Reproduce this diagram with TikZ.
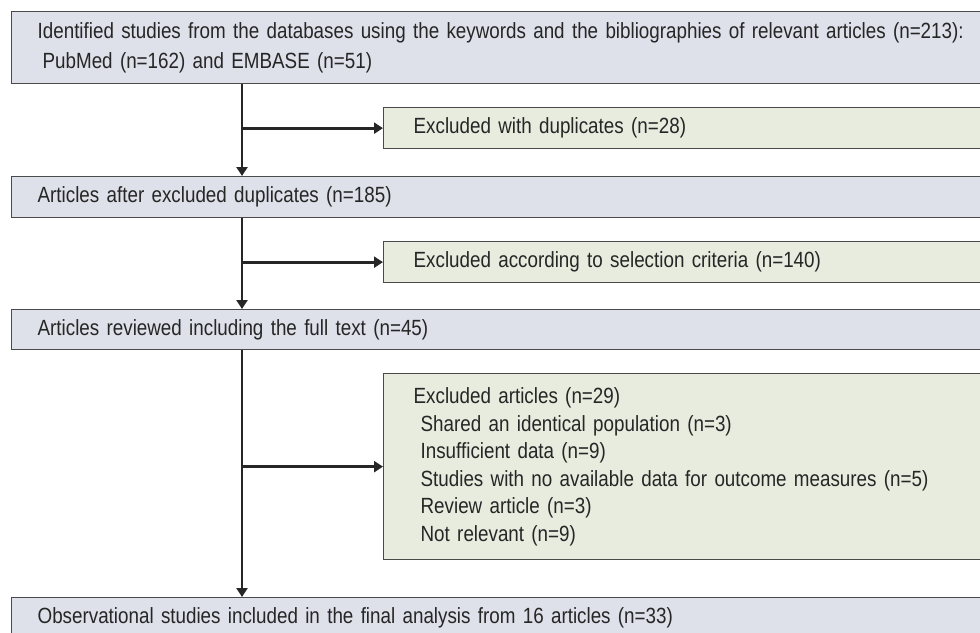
\documentclass[tikz,border=0pt]{standalone}
\usepackage{fontspec}
\setmainfont[FakeStretch=0.855]{Liberation Sans}
\usepackage{tikz}
\usetikzlibrary{arrows.meta, positioning}
\definecolor{mainfill}{HTML}{DEE0EA}
\definecolor{exclfill}{HTML}{E8ECDF}
\definecolor{boxline}{HTML}{4A4A4A}
\definecolor{txt}{HTML}{262626}

\begin{document}
\begin{tikzpicture}[
  x=1pt, y=-1pt,
  mainbox/.style={draw=boxline, fill=mainfill, line width=1.3pt, anchor=north west,
              text width=950pt, inner xsep=26pt, inner ysep=0pt, align=left,
              text=txt, font=\fontsize{22}{30}\selectfont},
  exclbox/.style={draw=boxline, fill=exclfill, line width=1.3pt, anchor=north west,
              text width=542pt, inner xsep=30pt, inner ysep=0pt, align=left,
              text=txt, font=\fontsize{22}{27.5}\selectfont},
  arr/.style={-{Triangle[width=11pt, length=9pt]}, line width=2.8pt, draw=black!85}]
  \useasboundingbox (0,0) rectangle (980,632);
  \node[mainbox, minimum height=72pt] (ident) at (11,11)
        {Identified studies from the databases using the keywords and the bibliographies of relevant articles (n=213):\\
         \hspace*{5pt}PubMed (n=162) and EMBASE (n=51)};
  \node[exclbox, minimum height=41pt] (exdup) at (383,107)
        {Excluded with duplicates (n=28)};
  \node[mainbox, minimum height=41pt] (dedup) at (11,176)
        {Articles after excluded duplicates (n=185)};
  \node[exclbox, minimum height=41pt] (excrit) at (383,241)
        {Excluded according to selection criteria (n=140)};
  \node[mainbox, minimum height=40pt] (fulltext) at (11,309)
        {Articles reviewed including the full text (n=45)};
  \node[exclbox, minimum height=186pt] (exart) at (383,373)
        {Excluded articles (n=29)\\
         \hspace*{7pt}Shared an identical population (n=3)\\
         \hspace*{7pt}Insufficient data (n=9)\\
         \hspace*{7pt}Studies with no available data for outcome measures (n=5)\\
         \hspace*{7pt}Review article (n=3)\\
         \hspace*{7pt}Not relevant (n=9)};
  \node[mainbox, minimum height=40pt] (final) at (11,597)
        {Observational studies included in the final analysis from 16 articles (n=33)};
  % trunk and side branches
  \coordinate (j1) at (exdup.west -| 242,0);
  \coordinate (j2) at (excrit.west -| 242,0);
  \coordinate (j3) at (exart.west -| 242,0);
  \draw[arr] (ident.south -| j1) -- (dedup.north -| j1);
  \draw[arr] (dedup.south -| j2) -- (fulltext.north -| j2);
  \draw[arr] (fulltext.south -| j3) -- (final.north -| j3);
  \draw[arr] (j1) -- (exdup.west);
  \draw[arr] (j2) -- (excrit.west);
  \draw[arr] (j3) -- (exart.west);
\end{tikzpicture}
\end{document}
